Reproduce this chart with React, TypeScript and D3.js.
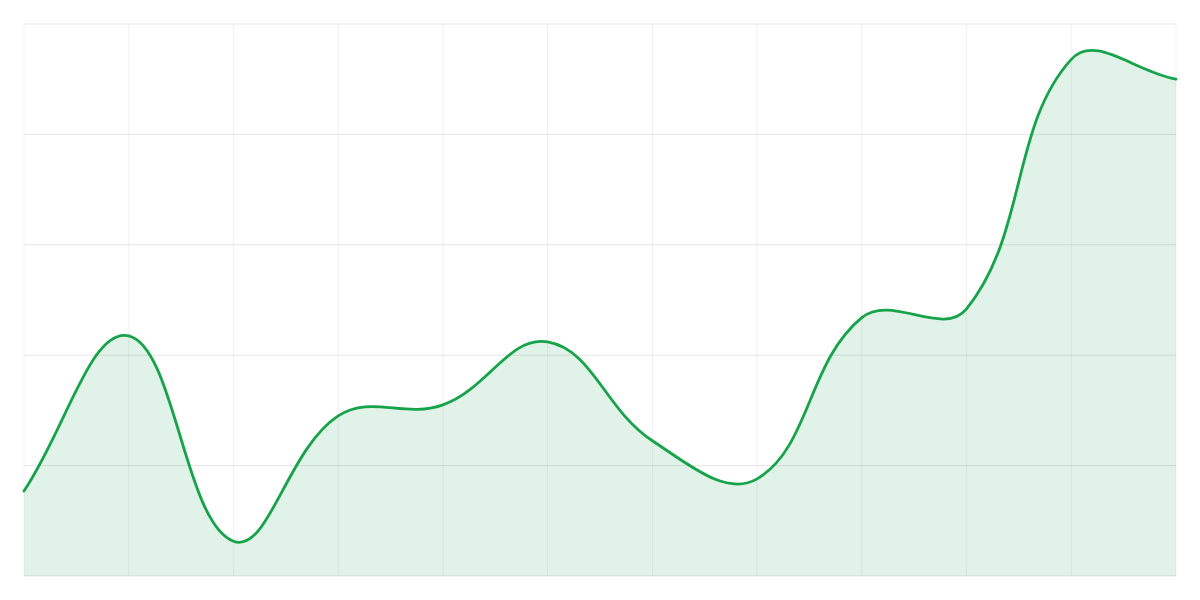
import React from "react";
import * as d3 from "d3";

const categories: number[] = [0, 1, 2, 3, 4, 5, 6, 7, 8, 9, 10, 11];
const values: number[] = [15.4, 43.5, 6.3, 29.0, 31.0, 42.4, 24.5, 17.6, 46.8, 48.4, 93.6, 90.0];
const yTicks: number[] = [0, 20, 40, 60, 80, 100];

const W = 1200;
const H = 600;
const M = { top: 24, right: 24, bottom: 24, left: 24 };

type P = { x: number; y: number; cp1x?: number; cp1y?: number; cp2x?: number; cp2y?: number };

function splineControls(pts: P[], t: number, area: { left: number; right: number; top: number; bottom: number }) {
  for (let i = 0; i < pts.length; i++) {
    const cur = pts[i];
    const prev = pts[i - 1] || cur;
    const next = pts[i + 1] || cur;
    const d01 = Math.hypot(cur.x - prev.x, cur.y - prev.y);
    const d12 = Math.hypot(next.x - cur.x, next.y - cur.y);
    let s01 = d01 / (d01 + d12);
    let s12 = d12 / (d01 + d12);
    if (isNaN(s01)) s01 = 0;
    if (isNaN(s12)) s12 = 0;
    const fa = t * s01;
    const fb = t * s12;
    const clampX = (v: number) => Math.max(area.left, Math.min(area.right, v));
    const clampY = (v: number) => Math.max(area.top, Math.min(area.bottom, v));
    cur.cp1x = clampX(cur.x - fa * (next.x - prev.x));
    cur.cp1y = clampY(cur.y - fa * (next.y - prev.y));
    cur.cp2x = clampX(cur.x + fb * (next.x - prev.x));
    cur.cp2y = clampY(cur.y + fb * (next.y - prev.y));
  }
}

export default function App() {
  const x = d3
    .scaleLinear()
    .domain([categories[0], categories[categories.length - 1]])
    .range([M.left, W - M.right]);
  const y = d3.scaleLinear().domain([0, 100]).range([H - M.bottom, M.top]);

  const pts: P[] = categories.map((c, i) => ({ x: x(c), y: y(values[i]) }));
  splineControls(pts, 0.4, { left: M.left, right: W - M.right, top: M.top, bottom: H - M.bottom });

  const line = d3.path();
  line.moveTo(pts[0].x, pts[0].y);
  for (let i = 1; i < pts.length; i++) {
    const a = pts[i - 1];
    const b = pts[i];
    line.bezierCurveTo(a.cp2x!, a.cp2y!, b.cp1x!, b.cp1y!, b.x, b.y);
  }
  const lineD = line.toString();
  const areaD = lineD + `L${pts[pts.length - 1].x},${y(0)}L${pts[0].x},${y(0)}Z`;

  return (
    <svg width={W} height={H} style={{ position: "absolute", left: 0, top: 0, background: "#fff" }}>
      <g>
        {categories.map((c) => (
          <line key={"v" + c} x1={x(c)} x2={x(c)} y1={y(100)} y2={y(0)} stroke="rgba(0,0,0,0.06)" strokeWidth={1} />
        ))}
        {yTicks.map((t) => (
          <line key={"h" + t} x1={M.left} x2={W - M.right} y1={y(t)} y2={y(t)} stroke="rgba(0,0,0,0.1)" strokeWidth={1} />
        ))}
      </g>
      <path d={areaD} fill="rgba(22,163,74,0.13)" stroke="none" />
      <path d={lineD} fill="none" stroke="#16a34a" strokeWidth={2.8} strokeLinejoin="round" strokeLinecap="round" />
    </svg>
  );
}
